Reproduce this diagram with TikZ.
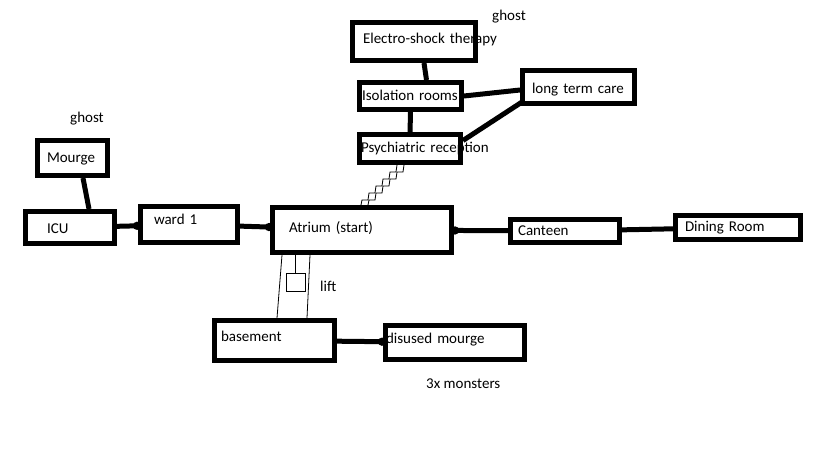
\documentclass[tikz,border=0pt]{standalone}
\usepackage{fontspec}
\setmainfont{Carlito}
\usepackage{tikz}
\usetikzlibrary{arrows.meta}

\begin{document}
\begin{tikzpicture}[
          x=1pt, y=-1pt,
          every node/.style={font=\fontsize{15}{18}\selectfont},
          room/.style={draw,line width=5pt,align=left,inner ysep=0pt,text height=10pt,text depth=2pt},
          link/.style={line width=5pt},
          blob/.style={-{Circle[length=8pt]},shorten >=-3pt},
          stair/.style={line width=0.8pt},
          note/.style={anchor=base west,inner sep=0pt}
          ]

          \fill[white] (0,0) rectangle (819,460);
          \useasboundingbox (0,0) rectangle (819,460);

          % rooms
          \node[room,inner xsep=10.5pt,text width=102pt,minimum height=38pt,text depth=6.4pt] (shock) at (414,41.5) {\rlap{Electro-shock therapy}};
          \node[room,inner xsep=2.5pt,text width=97pt,minimum height=27pt] (iso) at (410.5,96) {\rlap{Isolation rooms}};
          \node[room,inner xsep=9.5pt,text width=93pt,minimum height=33pt,text height=14.6pt] (care) at (578.5,87) {\rlap{long term care}};
          \node[room,inner xsep=1.5pt,text width=98pt,minimum height=28pt] (psych) at (410,148.5) {\rlap{Psychiatric reception}};
          \node[room,inner xsep=9.5pt,text width=51pt,minimum height=35pt] (mourge) at (72.5,158) {\rlap{Mourge}};
          \node[room,inner xsep=21.5pt,text width=46pt,minimum height=32pt,text height=13.6pt] (icu) at (70,227.5) {ICU};
          \node[room,inner xsep=13.5pt,text width=70pt,minimum height=36pt,text depth=11pt] (ward) at (189,224.5) {ward 1};
          \node[room,inner xsep=16.5pt,text width=146pt,minimum height=45pt,text depth=5.6pt] (atrium) at (362,230) {Atrium (start)};
          \node[room,inner xsep=7.5pt,text width=94pt,minimum height=23pt] (canteen) at (565,231) {Canteen};
          \node[room,inner xsep=9.5pt,text width=106pt,minimum height=24pt] (dining) at (738,227.5) {Dining Room};
          \node[room,inner xsep=6.5pt,text width=107pt,minimum height=40pt,text depth=7.6pt] (basement) at (274.5,340.5) {basement};
          \node[room,inner xsep=0.5pt,text width=138pt,minimum height=34pt,text depth=8.4pt] (disused) at (455,342.5) {disused mourge};

          % notes
          \node[note] (ghostup) at (492,20.7) {ghost};
          \node[note] (ghostleft) at (70,122.7) {ghost};
          \node[note] (liftnote) at (320,291.7) {lift};
          \node[note] (monsters) at (426,388.3) {3x monsters};

          % lift car
          \node[draw,line width=1pt,minimum width=19pt,minimum height=18pt,inner sep=0pt] (car) at (295.5,282) {};

          \draw[link] ([xshift=10pt]shock.south) -- ([xshift=16pt]iso.north);
          \draw[link] (iso.east) -- ([yshift=-3pt]care.west);
          \draw[link] (iso) -- (psych);
          \draw[link] ([yshift=8pt]psych.east) -- ([xshift=2pt,yshift=4pt]care.south west);
          \draw[link] ([xshift=10.5pt]mourge.south) -- ([xshift=19pt]icu.north);
          \draw[link,blob] (icu) -- (ward);
          \draw[link,blob] (ward) -- (atrium);
          \draw[link,{Circle[length=8pt]}-,shorten <=-3pt] (atrium) -- (canteen);
          \draw[link] (canteen) -- (dining);
          \draw[link,blob] (basement) -- (disused);

          % stairs
          \draw[stair] ([xshift=-6pt]psych.south) -- ++(-1,7) -- ++(-6,0) -- ++(-1,7) -- ++(-6,0) -- ++(-1,7) -- ++(-6,0)
            -- ++(-1,7) -- ++(-6,0) -- ++(-1,7) -- ++(-6,0) -- ++(-1,5);
          \draw[stair] ([xshift=-13pt]psych.south) -- ++(-1,7) -- ++(-6,0) -- ++(-1,7) -- ++(-6,0) -- ++(-1,7) -- ++(-6,0)
            -- ++(-1,7) -- ++(-6,0) -- ++(-1,7) -- ++(-6,0) -- ++(-1,5);

          % lift shaft
          \draw[stair] ([xshift=-80pt]atrium.south) -- ([xshift=2.5pt]basement.north);
          \draw[stair] ([xshift=-52pt]atrium.south) -- ([xshift=32.5pt]basement.north);
          \draw[stair] (car.north) -- (car.north |- atrium.south);
        \end{tikzpicture}
\end{document}
